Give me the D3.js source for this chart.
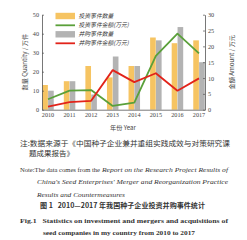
<!DOCTYPE html>
<html><head><meta charset="utf-8">
<script src="https://cdn.jsdelivr.net/npm/d3@7"></script>
<style>html,body{margin:0;padding:0;background:#fff;}svg{display:block;}text{white-space:pre;}</style>
</head><body>
<script>
const years = ["2010","2011","2012","2013","2014","2015","2016","2017"];
const investCount = [13, 15, 23, 17, 23, 38, 35, 36.5];
const mergeCount = [10, 15, 8, 28, 23, 36.5, 43.5, 25];
const investAmount = [3.3, 6, 6.2, 1.2, 2.2, 17, 24, 17.8];
const mergeAmount = [1, 2.4, 2.8, 12.5, 8.7, 11.5, 6, 9.9];
const leftTicks = [0, 10, 20, 30, 40, 50];
const rightTicks = [0, 5, 10, 15, 20, 25, 30];
const legendLabels = ["投资事件数量", "投资事件金额(万元)", "并购事件数量", "并购事件金额(万元)"];

const W = 247, H = 240;
const m = {l: 42, r: 205, t: 14.7, b: 109.7};
const cOrange = "#F6C462", cGray = "#B3B3B3", cGreen = "#5AA03A", cRed = "#E2231A";
const serif = "'Liberation Serif','DejaVu Serif',serif";
const cjk = "'Noto Sans CJK SC',sans-serif";

const svg = d3.select("body").append("svg").attr("width", W).attr("height", H);
svg.append("rect").attr("width", W).attr("height", H).attr("fill", "#fff");

const x = d3.scaleBand().domain(years).range([m.l, m.r]).paddingInner(0.445).paddingOuter(0);
const xs = d3.scaleBand().domain(["a","b"]).range([0, x.bandwidth()]).padding(0.04);
const yL = d3.scaleLinear().domain([0, 50]).range([m.b, m.t]);
const yR = d3.scaleLinear().domain([0, 30]).range([m.b, m.t]);

const g = svg.append("g");
g.selectAll(".bo").data(years).join("rect")
  .attr("x", d => x(d) + xs("a")).attr("width", xs.bandwidth())
  .attr("y", (d,i) => yL(investCount[i])).attr("height", (d,i) => yL(0) - yL(investCount[i]))
  .attr("fill", cOrange);
g.selectAll(".bg").data(years).join("rect")
  .attr("x", d => x(d) + xs("b")).attr("width", xs.bandwidth())
  .attr("y", (d,i) => yL(mergeCount[i])).attr("height", (d,i) => yL(0) - yL(mergeCount[i]))
  .attr("fill", cGray);

const line = d3.line().x(d => x(d[0]) + x.bandwidth()/2).y(d => yR(d[1]));
g.append("path").datum(years.map((y,i) => [y, investAmount[i]])).attr("d", line)
  .attr("fill", "none").attr("stroke", cGreen).attr("stroke-width", 1.8).attr("stroke-linejoin", "round");
g.append("path").datum(years.map((y,i) => [y, mergeAmount[i]])).attr("d", line)
  .attr("fill", "none").attr("stroke", cRed).attr("stroke-width", 1.8).attr("stroke-linejoin", "round");

const axStyle = sel => {
  sel.select(".domain").attr("stroke", "#555").attr("stroke-width", 0.8);
  sel.selectAll(".tick line").attr("stroke", "#555").attr("stroke-width", 0.7);
  sel.selectAll(".tick text").attr("font-family", serif).attr("font-size", 6.2).attr("fill", "#444");
};
svg.append("g").attr("transform", `translate(${m.l},0)`)
  .call(d3.axisLeft(yL).tickValues(leftTicks).tickSize(-2).tickSizeOuter(0).tickPadding(3))
  .call(axStyle);
svg.append("g").attr("transform", `translate(${m.r},0)`)
  .call(d3.axisRight(yR).tickValues(rightTicks).tickSize(-2).tickSizeOuter(0).tickPadding(3))
  .call(axStyle);
svg.append("g").attr("transform", `translate(0,${m.b})`)
  .call(d3.axisBottom(x).tickSize(0).tickPadding(3))
  .call(axStyle);

svg.append("text").attr("transform", `translate(27,${(m.t+m.b)/2}) rotate(-90)`)
  .attr("text-anchor", "middle").attr("font-size", 6.2).attr("fill", "#444").attr("font-family", cjk)
  .text("数量 Quantity / 万件");
svg.append("text").attr("transform", `translate(234,${(m.t+m.b)/2}) rotate(-90)`)
  .attr("text-anchor", "middle").attr("font-size", 6.2).attr("fill", "#444").attr("font-family", cjk)
  .text("金额 Amount / 万元");
svg.append("text").attr("x", 123).attr("y", 129.5).attr("text-anchor", "middle")
  .attr("font-size", 6.2).attr("fill", "#444").attr("font-family", cjk).text("年份 Year");

const lg = svg.append("g");
const rowsY = [16, 25.3, 34.3, 43.3];
const kinds = [["rect", cOrange], ["line", cGreen], ["rect", cGray], ["line", cRed]];
kinds.forEach((k, i) => {
  if (k[0] === "rect") lg.append("rect").attr("x", 55.5).attr("y", rowsY[i]-3.2).attr("width", 19.5).attr("height", 6.4).attr("fill", k[1]);
  else lg.append("line").attr("x1", 55.5).attr("x2", 75).attr("y1", rowsY[i]).attr("y2", rowsY[i]).attr("stroke", k[1]).attr("stroke-width", 1.8);
  lg.append("text").attr("x", 78.5).attr("y", rowsY[i] + 2.1).attr("font-size", 5.8)
    .attr("font-family", cjk).attr("fill", "#333").attr("font-style", "italic").text(legendLabels[i]);
});

const notes = [
  {t: "注:数据来源于《中国种子企业兼并重组实践成效与对策研究课", x: 20, y: 146, w: 210, f: cjk, s: 7, wt: 400},
  {t: "题成果报告》", x: 29, y: 156.3, w: 45, f: cjk, s: 7, wt: 400},
  {t: "China's Seed Enterprises' Merger and Reorganization Practice", x: 37, y: 184.3, w: 191, f: serif, s: 6.8, wt: 400, i: true},
  {t: "Results and Countermeasures", x: 37, y: 196.5, w: 88, f: serif, s: 6.8, wt: 400, i: true},
  {t: "图 1   2010—2017 年我国种子企业投资并购事件统计", x: 40, y: 208, w: 165, f: cjk, s: 6.8, wt: 700},
  {t: "Fig.1   Statistics on investment and mergers and acquisitions of", x: 20, y: 222.5, w: 208, f: serif, s: 7, wt: 700},
  {t: "seed companies in my country from 2010 to 2017", x: 43, y: 234.5, w: 152, f: serif, s: 7, wt: 700}
];
svg.selectAll(".note").data(notes).join("text")
  .attr("x", d => d.x).attr("y", d => d.y).attr("font-family", d => d.f).attr("font-size", d => d.s)
  .attr("font-weight", d => d.wt).attr("font-style", d => d.i ? "italic" : "normal")
  .attr("fill", "#333").attr("textLength", d => d.w).attr("lengthAdjust", "spacingAndGlyphs")
  .text(d => d.t);

const nt = svg.append("text").attr("y", 172).attr("font-family", serif).attr("font-size", 6.8).attr("fill", "#333");
nt.append("tspan").attr("x", 20).attr("textLength", 80).attr("lengthAdjust", "spacingAndGlyphs")
  .text("Note:The data comes from the");
nt.append("tspan").attr("x", 102).attr("font-style", "italic").attr("textLength", 126).attr("lengthAdjust", "spacingAndGlyphs")
  .text("Report on the Research Project Results of");
</script>
</body></html>
